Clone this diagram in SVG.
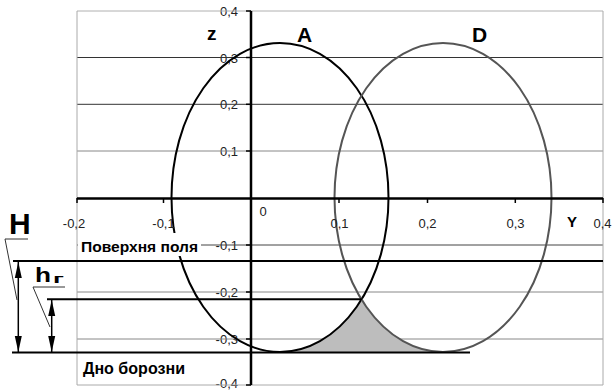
<svg xmlns="http://www.w3.org/2000/svg" width="613" height="391" viewBox="0 0 613 391">
<defs>
<style>
.grid{stroke-width:1;fill:none}
.thick{stroke:#000;stroke-width:2;fill:none}
.axis{stroke:#000;stroke-width:2.5;fill:none}
.tick{stroke:#000;stroke-width:1.5}
.lbl{font-family:"Liberation Sans",Arial,sans-serif;font-size:13px;fill:#222}
.bold{font-family:"Liberation Sans",Arial,sans-serif;font-weight:bold;fill:#000}
.leader{stroke:#333;stroke-width:1;fill:none}
.dim{stroke:#000;stroke-width:1.5;fill:none}
</style>
<marker id="arr" viewBox="0 0 16 8" refX="16" refY="4" markerWidth="16" markerHeight="8" markerUnits="userSpaceOnUse" orient="auto-start-reverse">
<path d="M0,0.5 L16,4 L0,7.5 z" fill="#000"/>
</marker>
</defs>
<rect width="613" height="391" fill="#fff"/>

<g id="y-labels" class="lbl" text-anchor="end">
<text x="238" y="16">0,4</text>
<text x="238" y="62.5">0,3</text>
<text x="238" y="109.3">0,2</text>
<text x="238" y="156">0,1</text>
<text x="238" y="250">-0,1</text>
<text x="238" y="297">-0,2</text>
<text x="238" y="344">-0,3</text>
<text x="238" y="388">-0,4</text>
</g>

<g id="grid">
<line class="grid" x1="77" y1="11" x2="603" y2="11" stroke="#b0b0b0"/>
<line class="grid" x1="77" y1="57.5" x2="603" y2="57.5" stroke="#333"/>
<line class="grid" x1="77" y1="104.3" x2="603" y2="104.3" stroke="#333"/>
<line class="grid" x1="77" y1="151" x2="603" y2="151" stroke="#888"/>
<line class="grid" x1="77" y1="245" x2="603" y2="245" stroke="#444"/>
<line class="grid" x1="77" y1="292" x2="603" y2="292" stroke="#888"/>
<line class="grid" x1="77" y1="339" x2="603" y2="339" stroke="#888"/>
<line class="grid" x1="77" y1="385" x2="603" y2="385" stroke="#aaa"/>
<line class="grid" x1="77" y1="11" x2="77" y2="385" stroke="#aaa"/>
<line class="grid" x1="603" y1="11" x2="603" y2="385" stroke="#aaa"/>
</g>

<g id="shaded-area">
<path d="M361.5,299.5 A108.5,154.5 0 0 1 280,352 L443,352 A108.5,154.5 0 0 1 361.5,299.5 Z" fill="#bdbdbd"/>
</g>

<g id="curve-A">
<ellipse cx="280" cy="197.5" rx="108.5" ry="154.5" fill="none" stroke="#000" stroke-width="2"/>
</g>
<g id="curve-D">
<ellipse cx="443" cy="197.5" rx="108.5" ry="154.5" fill="none" stroke="#555" stroke-width="2"/>
</g>

<g id="axes">
<line class="axis" x1="77" y1="198.5" x2="603" y2="198.5"/>
<line class="axis" x1="251" y1="11" x2="251" y2="385"/>
<g class="tick">
<line x1="77" y1="198" x2="77" y2="203"/>
<line x1="163.5" y1="198" x2="163.5" y2="203"/>
<line x1="339" y1="198" x2="339" y2="203"/>
<line x1="427.5" y1="198" x2="427.5" y2="203"/>
<line x1="515.3" y1="198" x2="515.3" y2="203"/>
<line x1="603" y1="198" x2="603" y2="203"/>
<line x1="246" y1="11" x2="251" y2="11"/>
<line x1="246" y1="57.5" x2="251" y2="57.5"/>
<line x1="246" y1="104.3" x2="251" y2="104.3"/>
<line x1="246" y1="151" x2="251" y2="151"/>
<line x1="246" y1="245" x2="251" y2="245"/>
<line x1="246" y1="292" x2="251" y2="292"/>
<line x1="246" y1="339" x2="251" y2="339"/>
<line x1="246" y1="385" x2="251" y2="385"/>
</g>
</g>

<g id="x-labels" class="lbl" text-anchor="middle">
<text x="74" y="228">-0,2</text>
<text x="163.5" y="228">-0,1</text>
<text x="263" y="216">0</text>
<text x="339.5" y="228">0,1</text>
<text x="427.5" y="228">0,2</text>
<text x="515.5" y="228">0,3</text>
<text x="602.5" y="228">0,4</text>
</g>

<g id="levels">
<line class="thick" x1="13" y1="261" x2="603" y2="261"/>
<line class="thick" x1="47" y1="299.3" x2="362" y2="299.3"/>
<line class="thick" x1="12" y1="352.5" x2="470" y2="352.5"/>
</g>

<g id="surface-label">
<rect x="78" y="233" width="123" height="23" fill="#fff"/>
<text class="bold" x="81" y="251.5" font-size="15" textLength="117" lengthAdjust="spacingAndGlyphs">Поверхня поля</text>
</g>

<g id="bottom-label">
<text class="bold" x="83" y="374" font-size="16" textLength="102" lengthAdjust="spacingAndGlyphs">Дно борозни</text>
</g>

<g id="dimension-H">
<line class="dim" x1="18.3" y1="262" x2="18.3" y2="352" marker-start="url(#arr)" marker-end="url(#arr)"/>
<polyline class="leader" points="28,239 5,239 17,300"/>
<text class="bold" x="9" y="234" font-size="30">H</text>
</g>

<g id="dimension-h">
<line class="dim" x1="51.7" y1="300" x2="51.7" y2="352" marker-start="url(#arr)" marker-end="url(#arr)"/>
<polyline class="leader" points="65,287 33,287 50,327"/>
<text class="bold" x="35" y="282" font-size="20" textLength="16" lengthAdjust="spacingAndGlyphs">h</text>
<text class="bold" x="53" y="283" font-size="13" textLength="11" lengthAdjust="spacingAndGlyphs">г</text>
</g>

<g id="axis-titles" class="bold">
<text x="207" y="40" font-size="19">z</text>
<text x="567" y="227" font-size="15">Y</text>
<text x="297" y="42" font-size="21">A</text>
<text x="472" y="42" font-size="21">D</text>
</g>
</svg>
